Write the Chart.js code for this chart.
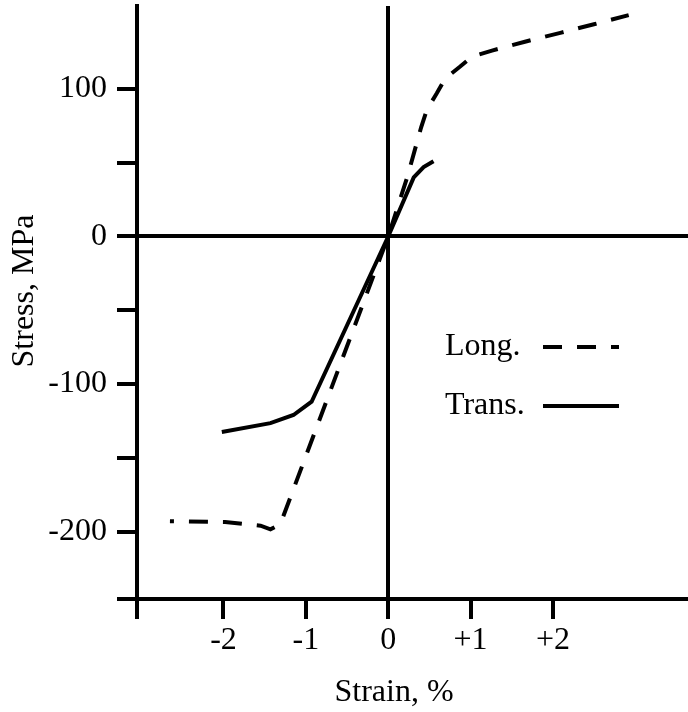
<!DOCTYPE html>
<html>
<head>
<meta charset="utf-8">
<script src="https://cdn.jsdelivr.net/npm/chart.js@4/dist/chart.umd.min.js"></script>
<style>
  body { margin: 0; background: #fff; }
  #wrap { width: 688px; height: 712px; }
</style>
</head>
<body>
<div id="wrap"><canvas id="stressChart"></canvas></div>
<script>
// Long. (dashed) - strain in %, stress in MPa
var longStrain = [-2.65, -1.98, -1.55, -1.43, -1.31, 0, 0.23, 0.40, 0.47, 0.59, 0.69, 0.87, 1.02, 1.26, 1.66, 2.09, 2.51, 2.92];
var longStress = [-193, -193.5, -196, -198.5, -195, 0, 40, 74, 86, 97, 107, 115, 122, 126, 132, 138, 144, 150];

// Trans. (solid)
var transStrain = [-2.02, -1.43, -1.15, -0.93, 0, 0.31, 0.43, 0.55];
var transStress = [-132.5, -126.5, -121, -112, 0, 40, 47, 51];

var seriesNames = ['Long.', 'Trans.'];

var xTickValues = [-2, -1, 0, 1, 2];
var xTickLabels = ['-2', '-1', '0', '+1', '+2'];
var yTickValues = [-200, -150, -100, -50, 0, 50, 100];
var yTickLabels = ['-200', '', '-100', '', '0', '', '100'];

var xMin = -3.05, xMax = 3.64;
var yMin = -245.7, yMax = 156.2;

function toPoints(xs, ys) {
    return xs.map(function(x, i) { return {x: x, y: ys[i]}; });
}

Chart.defaults.font.family = '"Liberation Serif", "Times New Roman", serif';
Chart.defaults.font.size = 32;
Chart.defaults.color = '#000';

// titles + legend drawn by hand (text comes before the line sample)
var extras = {
    id: 'extras',
    afterDraw: function(chart) {
        var ctx = chart.ctx;
        ctx.save();
        ctx.fillStyle = '#000';
        ctx.font = '32px "Liberation Serif", serif';
        ctx.textBaseline = 'middle';

        ctx.textAlign = 'center';
        ctx.fillText('Strain, %', 394, 693);

        ctx.save();
        ctx.translate(25, 291);
        ctx.rotate(-Math.PI / 2);
        ctx.fillText('Stress, MPa', 0, 0);
        ctx.restore();

        ctx.textAlign = 'left';
        var rows = [347, 406];
        chart.data.datasets.forEach(function(ds, i) {
            ctx.fillText(ds.label, 445, rows[i]);
            ctx.beginPath();
            ctx.lineWidth = 4;
            ctx.strokeStyle = '#000';
            ctx.setLineDash(ds.borderDash || []);
            ctx.moveTo(543, rows[i]);
            ctx.lineTo(619, rows[i]);
            ctx.stroke();
        });
        ctx.restore();
    }
};

var zeroColor = function(c) {
    return c.tick && c.tick.value === 0 ? '#000' : 'rgba(0,0,0,0)';
};

new Chart(document.getElementById('stressChart'), {
    type: 'line',
    data: {
        datasets: [{
            label: seriesNames[0],
            data: toPoints(longStrain, longStress),
            borderColor: '#000',
            borderWidth: 4,
            borderDash: [19, 15],
            borderDashOffset: 15,
            pointRadius: 0,
            tension: 0,
            fill: false
        }, {
            label: seriesNames[1],
            data: toPoints(transStrain, transStress),
            borderColor: '#000',
            borderWidth: 4,
            pointRadius: 0,
            tension: 0,
            fill: false
        }]
    },
    options: {
        responsive: true,
        maintainAspectRatio: false,
        animation: false,
        layout: {
            padding: {top: 6, right: 0, left: 0, bottom: 0}
        },
        plugins: {
            legend: {display: false},
            tooltip: {enabled: false}
        },
        scales: {
            x: {
                type: 'linear',
                min: xMin,
                max: xMax,
                afterFit: function(s) {
                    s.height = 113;
                    s.paddingLeft = 0;
                    s.paddingRight = 0;
                },
                afterBuildTicks: function(s) {
                    s.ticks = [xMin].concat(xTickValues).map(function(v) { return {value: v}; });
                },
                ticks: {
                    padding: 2,
                    maxRotation: 0,
                    callback: function(v) {
                        var i = xTickValues.indexOf(v);
                        return i < 0 ? '' : xTickLabels[i];
                    }
                },
                grid: {
                    color: zeroColor,
                    lineWidth: 4,
                    tickLength: 20,
                    tickColor: '#000',
                    tickWidth: 4
                },
                border: {display: true, color: '#000', width: 4}
            },
            y: {
                type: 'linear',
                min: yMin,
                max: yMax,
                afterFit: function(s) {
                    s.width = 137;
                    s.paddingTop = 0;
                    s.paddingBottom = 0;
                },
                afterBuildTicks: function(s) {
                    s.ticks = [yMin].concat(yTickValues).map(function(v) { return {value: v}; });
                },
                ticks: {
                    padding: 10,
                    callback: function(v) {
                        var i = yTickValues.indexOf(v);
                        return i < 0 ? '' : yTickLabels[i];
                    }
                },
                grid: {
                    color: zeroColor,
                    lineWidth: 4,
                    tickLength: 20,
                    tickColor: '#000',
                    tickWidth: 4
                },
                border: {display: true, color: '#000', width: 4}
            }
        }
    },
    plugins: [extras]
});
</script>
</body>
</html>
